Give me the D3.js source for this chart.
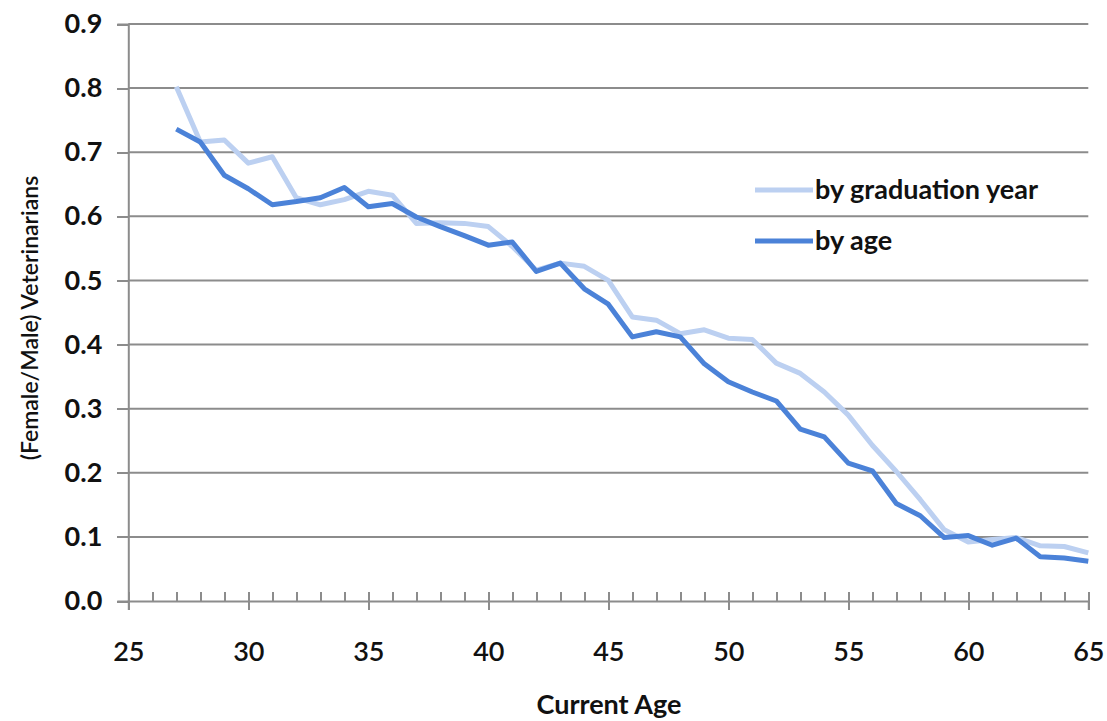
<!DOCTYPE html>
<html><head><meta charset="utf-8">
<script src="https://cdn.jsdelivr.net/npm/d3@7"></script>
<style>body{margin:0;background:#fff}svg{display:block}text{font-family:Lato,"Open Sans",sans-serif;fill:#111}</style>
</head><body><svg id="c" width="1107" height="721"></svg>
<script>
const ages = d3.range(27, 66);
const byAge = [0.736,0.716,0.664,0.643,0.618,0.623,0.629,0.645,0.615,0.620,0.599,0.584,0.570,0.555,0.560,0.514,0.527,0.487,0.463,0.412,0.420,0.412,0.370,0.342,0.326,0.312,0.268,0.256,0.215,0.203,0.152,0.133,0.099,0.102,0.087,0.098,0.069,0.067,0.062];
const byGrad = [0.802,0.716,0.719,0.683,0.693,0.629,0.618,0.626,0.639,0.633,0.589,0.590,0.589,0.584,0.553,0.516,0.527,0.522,0.500,0.443,0.438,0.417,0.423,0.410,0.408,0.371,0.355,0.326,0.290,0.243,0.202,0.158,0.111,0.092,0.096,0.099,0.086,0.085,0.075];
const yTicks = [0,0.1,0.2,0.3,0.4,0.5,0.6,0.7,0.8,0.9];
const xTicks = [25,30,35,40,45,50,55,60,65];
const seriesNames = ["by graduation year","by age"];

const svg = d3.select("#c");
const x = d3.scaleLinear().domain([25,65]).range([128.3,1088.3]);
const y = d3.scaleLinear().domain([0,0.9]).range([601,24]);
const grid = "#8c8c8c";

// gridlines
svg.append("g").selectAll("line").data(yTicks.slice(1)).join("line")
  .attr("x1",x(25)).attr("x2",x(65)).attr("y1",d=>y(d)).attr("y2",d=>y(d))
  .attr("stroke",grid).attr("stroke-width",2);

// y axis
const ya = svg.append("g").attr("transform",`translate(${x(25)},0)`)
  .call(d3.axisLeft(y).tickValues(yTicks).tickFormat(d3.format(".1f")).tickSize(11).tickPadding(15));
ya.select(".domain").attr("stroke",grid).attr("stroke-width",2);
ya.selectAll(".tick line").attr("stroke",grid).attr("stroke-width",2);
ya.selectAll("text").attr("font-size",27).attr("font-weight",700).attr("fill","#111").attr("font-family","Lato");

// x axis minor
const xa2 = svg.append("g").attr("transform",`translate(0,${y(0)})`)
  .call(d3.axisTop(x).tickValues(d3.range(25,66)).tickSize(9).tickFormat(""));
xa2.select(".domain").remove();
xa2.selectAll(".tick line").attr("stroke",grid).attr("stroke-width",2);
// x axis major
const xa = svg.append("g").attr("transform",`translate(0,${y(0)})`)
  .call(d3.axisBottom(x).tickValues(xTicks).tickSize(9));
xa.select(".domain").attr("stroke",grid).attr("stroke-width",2);
xa.selectAll(".tick line").attr("stroke",grid).attr("stroke-width",2);
xa.selectAll("text").attr("y",60).attr("dy",0).attr("font-size",27).attr("font-weight",600).attr("fill","#111").attr("font-family","Lato");
svg.selectAll(".tick line").attr("shape-rendering","crispEdges");
xa2.selectAll(".tick line").attr("y1",0).attr("y2",-9);
xa.selectAll(".tick line").attr("y1",-9).attr("y2",9);

// lines
const line = d3.line().x((d,i)=>x(ages[i])).y(d=>y(d));
svg.append("path").datum(byGrad).attr("d",line).attr("fill","none")
  .attr("stroke","#bcd0f1").attr("stroke-width",5).attr("stroke-linejoin","round");
svg.append("path").datum(byAge).attr("d",line).attr("fill","none")
  .attr("stroke","#4b82d8").attr("stroke-width",5).attr("stroke-linejoin","round");

// legend
const lg = svg.append("g");
[[190,"#bcd0f1"],[241,"#4b82d8"]].forEach(([ly,col],i)=>{
  lg.append("line").attr("x1",755).attr("x2",813).attr("y1",ly).attr("y2",ly)
    .attr("stroke",col).attr("stroke-width",5);
  lg.append("text").attr("x",815).attr("y",ly+9).attr("font-size",27).attr("font-weight",700)
    .text(seriesNames[i]);
});

// titles
svg.append("text").attr("x",609).attr("y",714).attr("text-anchor","middle")
  .attr("font-size",27).attr("font-weight",700).text("Current Age");
svg.append("text").attr("transform","translate(38,318) rotate(-90)").attr("text-anchor","middle")
  .attr("font-size",23).attr("font-weight",600).text("(Female/Male) Veterinarians");
</script></body></html>
